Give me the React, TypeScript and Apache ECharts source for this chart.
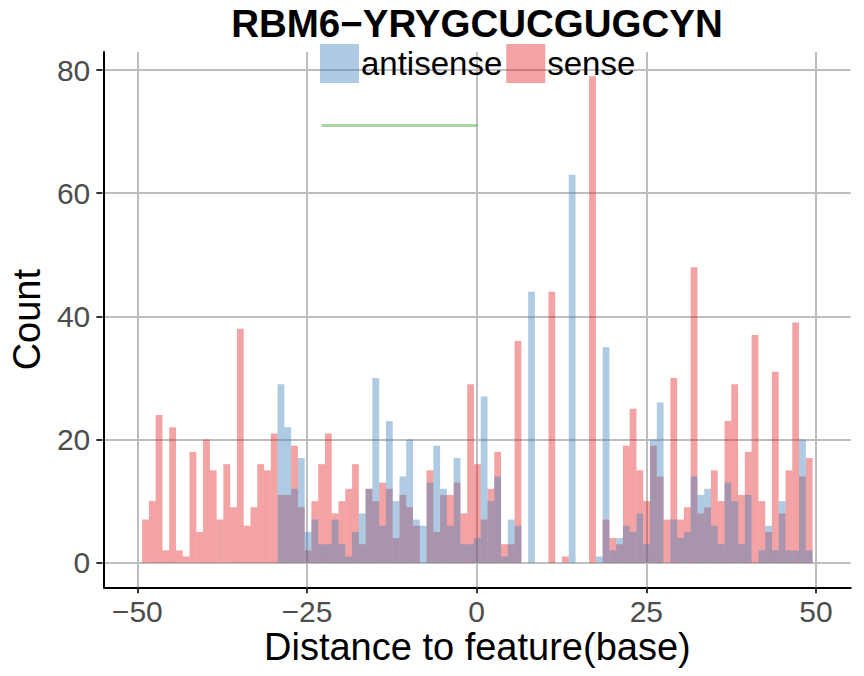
import React, { useEffect, useRef } from "react";
import * as echarts from "echarts";

const positions = [
  -49, -48, -47, -46, -45, -44, -43, -42, -41, -40, -39, -38, -37, -36, -35, -34, -33, -32, -31, -30,
  -29, -28, -27, -26, -25, -24, -23, -22, -21, -20, -19, -18, -17, -16, -15, -14, -13, -12, -11, -10,
  -9, -8, -7, -6, -5, -4, -3, -2, -1, 0, 1, 2, 3, 4, 5, 6, 7, 8, 9, 10,
  11, 12, 13, 14, 15, 16, 17, 18, 19, 20, 21, 22, 23, 24, 25, 26, 27, 28, 29, 30,
  31, 32, 33, 34, 35, 36, 37, 38, 39, 40, 41, 42, 43, 44, 45, 46, 47, 48, 49,
];

const antisense = [
  0, 0, 0, 0, 0, 0, 0, 0, 0, 0, 0, 0, 0, 0, 0, 0, 0, 0, 0, 0,
  29, 22, 12, 17, 5, 7, 3, 3, 7, 3, 1, 5, 8, 12, 30, 6, 23, 10, 14, 20,
  7, 6, 13, 19, 12, 6, 17, 3, 3, 4, 27, 10, 14, 1, 7, 6, 0, 44, 0, 0,
  0, 0, 0, 63, 0, 0, 0, 1, 35, 2, 4, 6, 5, 8, 3, 20, 26, 0, 7, 4,
  5, 14, 11, 12, 6, 3, 13, 10, 3, 11, 0, 2, 6, 2, 10, 2, 2, 20, 2,
];

const sense = [
  7, 10, 24, 2, 22, 2, 1, 18, 5, 20, 15, 7, 16, 9, 38, 6, 9, 16, 15, 21,
  11, 11, 19, 9, 2, 10, 16, 21, 8, 10, 12, 16, 3, 12, 10, 13, 12, 4, 11, 9,
  6, 0, 15, 5, 11, 11, 13, 8, 29, 16, 7, 12, 18, 3, 3, 36, 0, 0, 0, 0,
  44, 0, 1, 0, 0, 0, 79, 0, 7, 4, 3, 19, 25, 15, 10, 19, 14, 7, 30, 7,
  9, 48, 8, 9, 15, 10, 23, 29, 11, 18, 37, 10, 5, 31, 8, 15, 39, 14, 17,
];

const motifStart = -23;
const motifEnd = 0;
const motifLevel = 71;

const xTickMin = -50;
const xTickMax = 50;
const yTickMax = 80;

const FONT = "Liberation Sans, Arial, Helvetica, sans-serif";

export default function App() {
  const ref = useRef<HTMLDivElement>(null);

  useEffect(() => {
    if (!ref.current) return;
    const chart = echarts.init(ref.current, undefined, { renderer: "svg" });

    const panel = { left: 102.3, top: 52, width: 748.4, height: 535.3 };
    const xExt = 55.13;
    const yMin = -4;
    const yMax = 82.95;
    const gridColor = "#bebebe";

    const option: any = {
      animation: false,
      backgroundColor: "#ffffff",
      textStyle: { fontFamily: FONT },
      title: {
        text: "RBM6\u2212YRYGCUCGUGCYN",
        left: 477,
        top: 4,
        padding: 0,
        textAlign: "center",
        textStyle: { fontSize: 38.5, lineHeight: 38, fontWeight: "bold", color: "#000", fontFamily: FONT },
      },
      legend: {
        data: ["antisense", "sense"],
        left: 320,
        top: 44,
        padding: 0,
        itemWidth: 39,
        itemHeight: 39,
        itemGap: 4,
        icon: "rect",
        textStyle: { fontSize: 33, lineHeight: 29, color: "#000", fontFamily: FONT, padding: [0, 0, 0, -3] },
      },
      grid: [
        { ...panel },
        { left: 137.3, top: panel.top, width: 678.7, height: panel.height },
        { left: panel.left, top: 70, width: panel.width, height: 492.7 },
      ],
      xAxis: [
        {
          gridIndex: 0,
          type: "value",
          min: -xExt,
          max: xExt,
          axisLine: { show: true, onZero: false, lineStyle: { color: "#000", width: 2 } },
          axisTick: { show: false },
          axisLabel: { show: false },
          splitLine: { show: false },
          name: "Distance to feature(base)",
          nameLocation: "middle",
          nameGap: 41,
          nameTextStyle: { fontSize: 38, color: "#000", fontFamily: FONT },
        },
        {
          gridIndex: 1,
          type: "value",
          min: xTickMin,
          max: xTickMax,
          interval: 25,
          axisLine: { show: false },
          axisTick: { show: true, length: 6, lineStyle: { color: "#333", width: 2 } },
          axisLabel: {
            fontSize: 30,
            color: "#4d4d4d",
            margin: 9,
            fontFamily: FONT,
            formatter: (v: number) => String(v).replace("-", "\u2212"),
          },
          splitLine: { show: true, lineStyle: { color: gridColor, width: 2 } },
        },
        { gridIndex: 2, type: "value", show: false, min: 0, max: 1 },
      ],
      yAxis: [
        {
          gridIndex: 0,
          type: "value",
          min: yMin,
          max: yMax,
          axisLine: { show: true, onZero: false, lineStyle: { color: "#000", width: 2 } },
          axisTick: { show: false },
          axisLabel: { show: false },
          splitLine: { show: false },
          name: "Count",
          nameLocation: "middle",
          nameGap: 58,
          nameRotate: 90,
          nameTextStyle: { fontSize: 38, color: "#000", fontFamily: FONT },
        },
        { gridIndex: 1, type: "value", show: false, min: 0, max: 1 },
        {
          gridIndex: 2,
          type: "value",
          min: 0,
          max: yTickMax,
          interval: 20,
          axisLine: { show: false },
          axisTick: { show: true, length: 6, lineStyle: { color: "#333", width: 2 } },
          axisLabel: { fontSize: 30, color: "#4d4d4d", margin: 12, fontFamily: FONT },
          splitLine: { show: true, lineStyle: { color: gridColor, width: 2 } },
        },
      ],
      series: [
        {
          name: "sense",
          type: "bar",
          xAxisIndex: 0,
          yAxisIndex: 0,
          data: positions.map((p, i) => [p, sense[i]]),
          barWidth: 6.8,
          barGap: "-100%",
          itemStyle: { color: "#E41A1C", opacity: 0.4 },
          z: 3,
        },
        {
          name: "antisense",
          type: "bar",
          xAxisIndex: 0,
          yAxisIndex: 0,
          data: positions.map((p, i) => [p, antisense[i]]),
          barWidth: 6.8,
          barGap: "-100%",
          itemStyle: { color: "#377EB8", opacity: 0.4 },
          z: 3,
        },
        {
          name: "motif",
          type: "line",
          xAxisIndex: 0,
          yAxisIndex: 0,
          data: [
            [motifStart, motifLevel],
            [motifEnd, motifLevel],
          ],
          symbol: "none",
          lineStyle: { color: "#4DAF4A", width: 3, opacity: 0.5 },
          z: 4,
        },
      ],
    };

    chart.setOption(option);
    return () => chart.dispose();
  }, []);

  return (
    <div
      ref={ref}
      style={{ position: "fixed", left: 0, top: 0, width: 864, height: 676, background: "#fff" }}
    />
  );
}
